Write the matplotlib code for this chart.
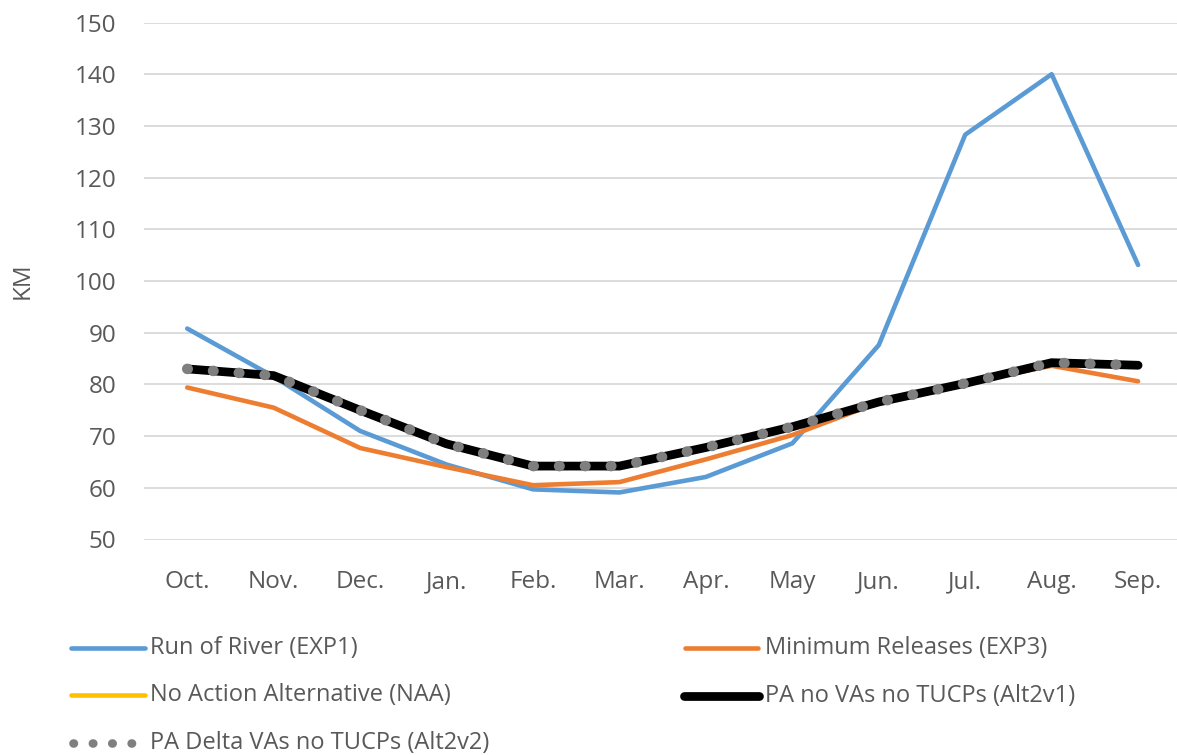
import matplotlib
matplotlib.use("Agg")
import matplotlib.pyplot as plt
from matplotlib.lines import Line2D

plt.rcParams['font.family'] = ['Open Sans', 'DejaVu Sans']

months = ["Oct.", "Nov.", "Dec.", "Jan.", "Feb.", "Mar.", "Apr.", "May", "Jun.", "Jul.", "Aug.", "Sep."]
run_of_river = [90.8, 81.5, 71.0, 64.5, 59.7, 59.1, 62.1, 68.6, 87.6, 128.3, 140.0, 103.1]
min_releases = [79.4, 75.5, 67.7, 64.0, 60.5, 61.1, 65.5, 70.2, 76.5, 80.3, 83.6, 80.6]
naa = [83.0, 81.7, 75.0, 68.5, 64.2, 64.2, 67.8, 71.8, 76.6, 80.2, 84.2, 83.7]
alt2v1 = [83.0, 81.7, 75.0, 68.5, 64.2, 64.2, 67.8, 71.8, 76.6, 80.2, 84.2, 83.7]
alt2v2 = [83.0, 81.7, 75.0, 68.5, 64.2, 64.2, 67.8, 71.8, 76.6, 80.2, 84.2, 83.7]
labels = ["Run of River (EXP1)", "Minimum Releases (EXP3)", "No Action Alternative (NAA)",
          "PA no VAs no TUCPs (Alt2v1)", "PA Delta VAs no TUCPs (Alt2v2)"]
yticks = [50, 60, 70, 80, 90, 100, 110, 120, 130, 140, 150]

fig = plt.figure(figsize=(11.77, 7.55), dpi=100)
ax = fig.add_axes([144/1177, (755-539.5)/755, 1 - 144/1177, (539.5-22.5)/755])

x = list(range(len(months)))
styles = [
    dict(color="#5B9BD5", lw=3.3, solid_capstyle="round"),
    dict(color="#ED7D31", lw=3.3, solid_capstyle="round"),
    dict(color="#FFC000", lw=3.3, solid_capstyle="round"),
    dict(color="#000000", lw=6.3, solid_capstyle="round"),
    dict(color="#7F7F7F", lw=7.6, linestyle=(0, (0.05, 2.4)), dash_capstyle="round"),
]
series = [run_of_river, min_releases, naa, alt2v1, alt2v2]
for s, st in zip(series, styles):
    ax.plot(x, s, **st)

ax.set_xlim(-0.5, 11.45)
ax.set_ylim(50, 150)
ax.set_yticks(yticks)
ax.set_xticks(x)
ax.set_xticklabels(months)
ax.grid(axis="y", color="#D9D9D9", lw=1.3)
ax.set_axisbelow(True)
for sp in ax.spines.values():
    sp.set_visible(False)
ax.tick_params(length=0, labelsize=17.5, labelcolor="#595959")
ax.tick_params(axis="y", pad=20)
ax.tick_params(axis="x", pad=22)
ax.set_ylabel("KM", fontsize=17.5, color="#595959", labelpad=29)

# legend (two columns), drawn in figure pixels
W, H = 1177, 755
legend_styles = [
    dict(color="#5B9BD5", lw=3.3, solid_capstyle="round"),
    dict(color="#ED7D31", lw=3.3, solid_capstyle="round"),
    dict(color="#FFC000", lw=3.3, solid_capstyle="round"),
    dict(color="#000000", lw=6.3, solid_capstyle="round"),
    dict(color="#7F7F7F", lw=6.2, linestyle=(0, (0.05, 2.2)), dash_capstyle="round"),
]
pos = [(71, 145, 150, 648), (685, 758, 765, 648), (71, 145, 150, 695),
       (684, 759, 765, 696), (73, 135, 150, 743)]
for (x0, x1, tx, ty), st, lab in zip(pos, legend_styles, labels):
    ln = Line2D([x0/W, x1/W], [1 - ty/H, 1 - ty/H], transform=fig.transFigure, **st)
    fig.add_artist(ln)
    fig.text(tx/W, 1 - ty/H, lab, fontsize=17, color="#595959", va="center", ha="left")

fig.savefig("out.png", dpi=100)
